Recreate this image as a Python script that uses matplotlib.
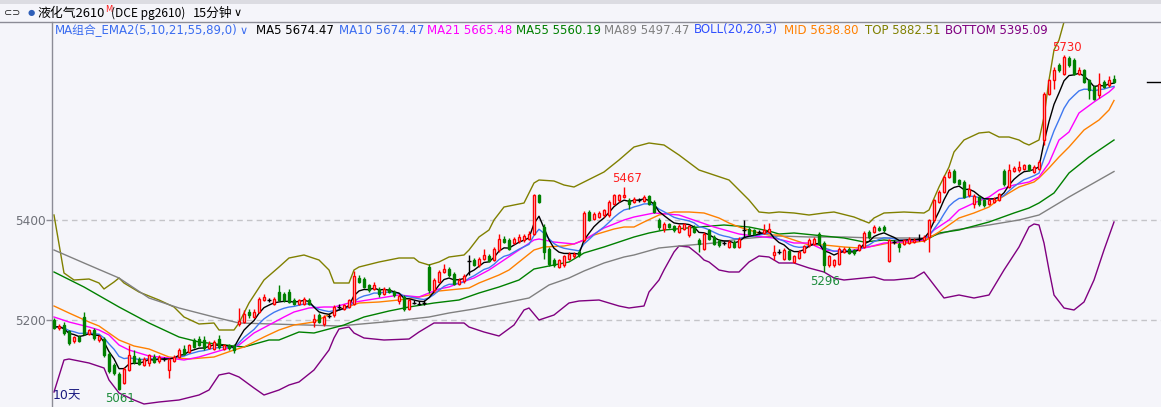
import matplotlib
matplotlib.use('Agg')
import matplotlib.pyplot as plt
from matplotlib.lines import Line2D
from matplotlib.patches import Rectangle

# ---------------- data ----------------
opens = [5200,5184,5190,5178,5158,5167,5207,5173,5180,5160,5163,5133,5110,5093,5075,5100,5128,5123,5110,5115,
         5127,5118,5122,5100,5119,5127,5143,5137,5160,5162,5161,5145,5143,5163,5143,5150,5148,5192,5197,5217,
         5207,5217,5240,5240,5233,5257,5253,5257,5240,5233,5233,5240,5197,5210,5193,5208,5210,5227,5223,5227,
         5233,5285,5283,5270,5263,5263,5253,5263,5257,5239,5247,5223,5235,5233,5235,5307,5260,5277,5297,5303,
         5293,5273,5278,5318,5320,5310,5323,5328,5320,5340,5363,5360,5355,5358,5360,5363,5373,5450,5387,5343,
         5320,5307,5310,5323,5328,5337,5360,5417,5403,5407,5410,5410,5433,5440,5447,5441,5437,5441,5439,5448,
         5437,5401,5383,5392,5388,5377,5383,5370,5387,5361,5343,5380,5367,5359,5355,5347,5357,5347,5380,5383,
         5380,5377,5375,5377,5330,5337,5323,5339,5317,5325,5337,5350,5353,5373,5355,5310,5310,5313,5337,5343,
         5340,5341,5347,5377,5377,5385,5387,5319,5357,5353,5353,5355,5357,5363,5360,5367,5400,5437,5457,5487,
         5499,5480,5477,5450,5432,5447,5440,5433,5437,5441,5499,5467,5499,5500,5503,5510,5497,5503,5560,5653,
         5680,5710,5693,5724,5720,5693,5700,5680,5667,5650,5677,5670,5683]
highs = [5205,5192,5197,5181,5169,5170,5217,5183,5184,5171,5166,5136,5114,5097,5106,5150,5140,5126,5126,5133,
         5132,5130,5126,5125,5130,5145,5150,5153,5165,5168,5168,5158,5160,5170,5153,5153,5152,5225,5220,5222,
         5222,5246,5253,5244,5246,5270,5257,5262,5244,5243,5247,5244,5213,5214,5210,5213,5230,5232,5232,5243,
         5298,5290,5287,5273,5277,5266,5266,5267,5260,5252,5250,5243,5240,5238,5240,5313,5285,5300,5312,5306,
         5296,5284,5292,5330,5324,5326,5343,5332,5346,5373,5368,5364,5366,5373,5372,5378,5452,5453,5393,5347,
         5324,5322,5331,5336,5337,5340,5418,5420,5416,5418,5423,5440,5453,5453,5467,5444,5446,5445,5450,5451,
         5440,5404,5397,5395,5391,5392,5395,5391,5390,5364,5376,5383,5370,5362,5359,5360,5360,5366,5400,5386,
         5383,5381,5393,5395,5350,5342,5344,5342,5331,5340,5351,5364,5366,5376,5358,5331,5323,5346,5346,5346,
         5343,5353,5378,5380,5390,5388,5390,5363,5361,5357,5363,5366,5365,5373,5370,5403,5443,5460,5490,5503,
         5502,5483,5480,5472,5452,5450,5443,5445,5446,5455,5502,5512,5508,5518,5513,5513,5510,5520,5656,5683,
         5706,5715,5730,5728,5724,5707,5703,5683,5670,5695,5680,5688,5690]
lows = [5182,5181,5170,5150,5155,5156,5170,5170,5160,5157,5127,5095,5090,5061,5073,5098,5112,5110,5108,5108,
        5114,5115,5118,5084,5116,5124,5130,5134,5145,5148,5140,5142,5140,5143,5140,5141,5135,5189,5195,5205,
        5205,5215,5238,5236,5230,5238,5237,5234,5230,5230,5230,5230,5187,5195,5188,5204,5207,5222,5220,5224,
        5230,5274,5264,5257,5260,5246,5250,5254,5247,5233,5218,5220,5232,5230,5230,5255,5257,5275,5294,5287,
        5270,5270,5275,5290,5308,5306,5320,5316,5318,5337,5354,5340,5352,5355,5357,5360,5370,5434,5323,5308,
        5306,5304,5307,5320,5325,5327,5357,5398,5400,5404,5407,5407,5430,5437,5444,5423,5434,5436,5436,5430,
        5414,5380,5377,5384,5377,5374,5380,5367,5374,5337,5340,5360,5350,5347,5351,5344,5344,5344,5367,5370,
        5370,5373,5372,5374,5320,5333,5320,5320,5314,5322,5334,5347,5350,5350,5296,5307,5307,5310,5334,5332,
        5330,5338,5344,5362,5374,5378,5377,5316,5353,5337,5350,5352,5354,5359,5357,5337,5397,5434,5454,5484,
        5474,5470,5444,5447,5425,5428,5427,5430,5434,5438,5468,5464,5496,5497,5500,5498,5494,5500,5550,5650,
        5663,5696,5690,5706,5690,5690,5674,5643,5640,5645,5664,5667,5674]
closes = [5185,5189,5174,5155,5166,5159,5173,5180,5164,5168,5130,5098,5094,5063,5103,5130,5117,5113,5123,5130,
          5117,5126,5122,5123,5127,5141,5133,5150,5147,5150,5145,5153,5157,5147,5150,5144,5140,5199,5213,5210,
          5217,5243,5247,5240,5243,5240,5240,5237,5233,5240,5243,5233,5203,5197,5207,5208,5227,5227,5230,5240,
          5288,5277,5267,5260,5270,5253,5263,5257,5250,5248,5223,5240,5235,5233,5235,5260,5280,5297,5303,5290,
          5273,5281,5288,5318,5310,5323,5330,5319,5343,5363,5357,5343,5362,5367,5368,5373,5450,5437,5337,5313,
          5310,5320,5328,5333,5333,5330,5415,5401,5413,5415,5420,5437,5450,5450,5450,5433,5443,5441,5447,5433,
          5417,5387,5393,5386,5380,5389,5392,5388,5377,5353,5373,5363,5353,5350,5355,5357,5347,5363,5380,5373,
          5373,5377,5380,5383,5337,5337,5341,5323,5328,5337,5348,5361,5363,5353,5310,5328,5320,5343,5343,5335,
          5335,5350,5375,5367,5387,5380,5380,5360,5357,5347,5360,5363,5361,5363,5367,5400,5440,5457,5487,5497,
          5477,5473,5447,5463,5448,5433,5430,5441,5443,5452,5472,5500,5505,5507,5510,5501,5507,5517,5653,5680,
          5700,5700,5727,5710,5693,5700,5677,5660,5643,5673,5667,5680,5677]

# moving-average lines (candle index -> price)
ma21_idx = [0,3,7,9,11,13,15,19,23,26,29,35,37,40,43,46,48,51,54,56,59,69,73,75,77,79,81,84,87,96,97,100,104,106,
            110,114,116,120,125,132,137,140,144,148,151,154,158,160,163,166,170,174,176,179,181,184,187,189,192,
            195,197,199,201,203,205,208,211,212]
ma21_val = [5206,5196,5186,5180,5170,5150,5140,5128,5124,5120,5126,5144,5150,5174,5190,5206,5216,5224,5226,5226,
            5234,5250,5246,5254,5262,5266,5274,5284,5300,5360,5362,5356,5352,5360,5384,5400,5406,5414,5410,5386,
            5372,5368,5364,5354,5354,5340,5336,5340,5346,5354,5356,5360,5380,5400,5420,5434,5446,5460,5470,5476,
            5486,5514,5560,5576,5614,5636,5656,5665]
ma55_idx = [0,6,13,19,25,29,36,38,43,45,49,52,58,62,67,71,76,81,85,89,93,96,100,103,106,110,113,116,119,122,129,
            134,139,143,145,148,152,158,162,166,171,174,177,181,187,192,195,197,200,203,207,212]
ma55_val = [5296,5266,5226,5194,5166,5156,5148,5146,5160,5160,5176,5174,5190,5206,5218,5226,5234,5240,5254,5266,
            5280,5302,5310,5316,5334,5346,5356,5366,5374,5380,5386,5390,5386,5378,5372,5374,5370,5364,5356,5360,
            5356,5358,5374,5380,5396,5414,5424,5434,5454,5494,5526,5560]
ma89_idx = [0,6,13,19,25,32,37,57,66,75,79,84,89,95,99,103,106,110,114,116,121,125,132,137,142,145,151,158,164,
            171,174,180,187,193,197,201,203,212]
ma89_val = [5340,5314,5284,5244,5224,5206,5194,5188,5196,5206,5214,5222,5232,5244,5270,5284,5298,5314,5326,5330,
            5344,5348,5354,5362,5366,5368,5366,5366,5364,5364,5364,5380,5390,5400,5410,5434,5446,5497]
mid_idx = [0,3,7,9,13,16,19,23,27,32,36,38,42,45,48,52,54,56,58,61,65,69,73,75,77,79,83,85,89,91,94,96,98,102,
           104,106,108,110,112,114,116,118,121,124,127,130,133,135,137,139,141,143,145,148,151,154,158,161,164,
           167,171,174,177,179,181,184,187,189,191,193,196,197,199,201,203,206,209,211,212]
mid_val = [5228,5214,5196,5188,5160,5148,5142,5126,5122,5126,5140,5146,5166,5180,5190,5196,5206,5216,5224,5234,
           5236,5240,5246,5250,5258,5260,5264,5274,5290,5300,5324,5340,5346,5348,5352,5360,5370,5376,5382,5386,
           5386,5396,5410,5416,5416,5414,5404,5394,5386,5380,5374,5370,5370,5360,5350,5350,5346,5344,5348,5354,
           5354,5358,5376,5390,5404,5414,5426,5442,5454,5466,5476,5484,5504,5526,5546,5580,5600,5620,5639]
top_idx = [0,2,4,7,9,10,12,13,14,17,21,24,26,29,32,33,36,37,39,42,45,47,50,53,55,56,59,60,61,65,69,72,73,75,77,
           79,82,83,85,87,88,90,94,96,97,100,102,104,106,108,110,113,116,119,122,125,129,132,135,137,139,141,143,
           145,148,151,154,156,160,163,164,166,170,174,175,177,179,180,182,185,187,189,191,193,194,195,197,198,
           199,200,201,202,204,207,212]
top_val = [5410,5294,5280,5282,5274,5262,5276,5284,5274,5256,5240,5226,5206,5192,5194,5180,5180,5194,5234,5280,
           5306,5324,5330,5320,5300,5274,5274,5300,5306,5316,5324,5324,5316,5310,5316,5326,5330,5340,5366,5380,
           5400,5426,5434,5474,5480,5478,5470,5466,5476,5486,5496,5520,5546,5554,5550,5530,5500,5490,5480,5460,
           5440,5416,5414,5416,5414,5410,5414,5416,5406,5394,5404,5414,5416,5414,5420,5466,5506,5536,5560,5574,
           5576,5566,5566,5560,5554,5550,5560,5606,5680,5740,5760,5796,5830,5862,5882]
bot_idx = [0,2,3,7,10,11,13,16,18,21,25,29,31,33,35,37,40,42,45,47,49,52,55,56,57,59,60,62,66,71,73,76,82,83,86,
           89,92,94,95,97,100,103,105,109,113,115,118,119,121,122,124,125,127,129,130,131,133,135,137,139,141,
           143,145,148,151,154,156,158,160,164,166,168,172,174,176,178,181,184,187,190,193,195,196,197,198,199,
           200,202,204,206,208,210,212]
bot_val = [5056,5120,5122,5114,5104,5080,5054,5040,5032,5036,5040,5050,5060,5090,5094,5086,5064,5050,5060,5070,
           5076,5100,5140,5164,5182,5186,5174,5164,5160,5162,5176,5194,5194,5186,5176,5168,5190,5220,5224,5200,
           5210,5234,5238,5240,5228,5224,5228,5256,5280,5300,5336,5348,5346,5330,5320,5316,5300,5296,5296,5316,
           5328,5326,5314,5314,5304,5296,5284,5280,5282,5286,5280,5280,5284,5296,5270,5244,5250,5244,5250,5300,
           5346,5386,5392,5390,5354,5300,5250,5224,5220,5236,5280,5340,5396]

legend_items = [("MA组合_EMA2(5,10,21,55,89,0)", '#3a6cf0', 55), ("MA5 5674.47", '#000000', 256),
                ("MA10 5674.47", '#3a6cf0', 339), ("MA21 5665.48", '#ff00ff', 427),
                ("MA55 5560.19", '#008000', 516), ("MA89 5497.47", '#808080', 604),
                ("BOLL(20,20,3)", '#3050ff', 694), ("MID 5638.80", '#ff8000', 784),
                ("TOP 5882.51", '#808000', 865), ("BOTTOM 5395.09", '#800080', 945)]
ytick_vals = [5200, 5400]
extreme_labels = [(13, 'low', '5061', '#1e8c3c'), (154, 'low', '5296', '#1e8c3c'),
                  (114, 'high', '5467', '#ff2020'), (202, 'high', '5730', '#ff2020')]

# ---------------- figure ----------------
W, H = 1161, 407
BG = '#f5f5fa'
fig = plt.figure(figsize=(W / 100, H / 100), dpi=100)
fig.patch.set_facecolor(BG)

def fx(x):
    return x / W

def fy(y):
    return 1 - y / H

ax = fig.add_axes([fx(52), 0, 1 - fx(52), (H - 22) / H])
ax.set_facecolor(BG)
ax.set_xlim(-0.4, 221.4)
ax.set_ylim(5026, 5796)
for s in ['top', 'right', 'bottom']:
    ax.spines[s].set_visible(False)
ax.spines['left'].set_color('#8c8c96')
ax.spines['left'].set_linewidth(1)
ax.set_xticks([])
ax.set_yticks(ytick_vals)
ax.set_yticklabels([str(v) for v in ytick_vals])
ax.tick_params(axis='y', direction='out', length=4, width=1, color='#8c8c96',
               labelcolor='#6e7078', labelsize=8.7, pad=0.5)
for v in ytick_vals:
    ax.axhline(v, color='#c4c4c8', lw=1, ls=(0, (4, 3)), zorder=1)

# EMA lines (computed from closes)
def ema(vals, n, seed):
    a = 2.0 / (n + 1)
    e = seed
    out = []
    for v in vals:
        e = e + a * (v - e)
        out.append(e)
    return out

n = len(closes)
idx = list(range(n))
ma5 = ema(closes, 5, 5186)
ma10 = ema(closes, 10, 5186)

lw = 1.0
ax.plot(top_idx, top_val, color='#808000', lw=lw, zorder=2)
ax.plot(bot_idx, bot_val, color='#800080', lw=lw, zorder=2)
ax.plot(ma89_idx, ma89_val, color='#808080', lw=lw, zorder=2)
ax.plot(ma55_idx, ma55_val, color='#008000', lw=lw, zorder=2)
ax.plot(mid_idx, mid_val, color='#ff8000', lw=lw, zorder=2)
ax.plot(ma21_idx, ma21_val, color='#ff00ff', lw=lw, zorder=2)
ax.plot(idx, ma10, color='#3f78f0', lw=lw, zorder=2)
ax.plot(idx, ma5, color='#000000', lw=lw, zorder=2)

# candles
bw = 0.58
for i in range(n):
    o, h, l, c = opens[i], highs[i], lows[i], closes[i]
    if c > o:
        col = '#ff0000'
    elif c < o:
        col = '#008000'
    else:
        col = '#000000'
    ax.vlines(i, l, h, color=col, lw=1, zorder=3)
    if c == o:
        ax.hlines(c, i - 0.35, i + 0.35, color=col, lw=1, zorder=4)
    elif c > o:
        ax.add_patch(Rectangle((i - bw / 2, o), bw, c - o, facecolor=BG, edgecolor=col, lw=1, zorder=4))
    else:
        ax.add_patch(Rectangle((i - bw / 2, c), bw, o - c, facecolor=col, edgecolor=col, lw=1, zorder=4))

for k, kind, txt, col in extreme_labels:
    if kind == 'low':
        ax.annotate(txt, xy=(k, lows[k]), xytext=(1, -2), textcoords='offset points', ha='center', va='top',
                    color=col, fontsize=8.5, family='DejaVu Sans', zorder=6)
    else:
        ax.annotate(txt, xy=(k, highs[k]), xytext=(2, 1), textcoords='offset points', ha='center', va='bottom',
                    color=col, fontsize=8.5, family='DejaVu Sans', zorder=6)

# current price marker
ax.axhline(closes[-1], xmin=(1147 - 52) / (W - 52), xmax=1, color='#000000', lw=1)

# ---------------- header ----------------
fig.patches.append(Rectangle((0, fy(4)), 1, 4 / H, transform=fig.transFigure, facecolor='#dcdce2',
                             edgecolor='none'))
fig.lines.append(Line2D([0, 1], [fy(22), fy(22)], transform=fig.transFigure, color='#8c8c96', lw=1))

fams = ['DejaVu Sans', 'Noto Sans CJK SC']
cjk = ['Noto Sans CJK SC', 'DejaVu Sans']
fig.text(fx(4), fy(13), '⊂⊃', fontsize=7, color='#202020', va='center', ha='left', family=fams)
fig.text(fx(28), fy(13), '●', fontsize=6, color='#2f5fb8', va='center', ha='left', family=fams)
fig.text(fx(37), fy(13), '液化气2610', fontsize=9.3, color='#000000', va='center', ha='left', family=cjk)
fig.text(fx(105), fy(9), 'M', fontsize=6, color='#ff2020', va='center', ha='left', family=fams)
fig.text(fx(111), fy(13), '(DCE pg2610)', fontsize=8.6, color='#000000', va='center', ha='left', family=cjk)
fig.text(fx(193), fy(13), '15分钟', fontsize=9.2, color='#000000', va='center', ha='left', family=cjk)
fig.text(fx(234), fy(13), '∨', fontsize=8, color='#000000', va='center', ha='left', family=fams)

for txt, col, x in legend_items:
    fig.text(fx(x), fy(30), txt, fontsize=8.5, color=col, va='center', ha='left', family=fams)
fig.text(fx(240), fy(31), '∨', fontsize=8, color='#3a6cf0', va='center', ha='left', family=fams)

fig.text(fx(53), fy(396), '10天', fontsize=9, color='#1a1a80', va='center', ha='left', family=fams)

fig.savefig('out.png', dpi=100, facecolor=BG)
